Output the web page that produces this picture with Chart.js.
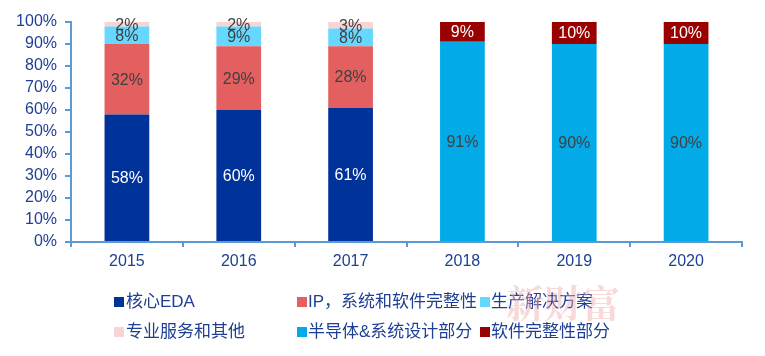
<!DOCTYPE html>
<html>
<head>
<meta charset="utf-8">
<script src="https://cdn.jsdelivr.net/npm/chart.js@4"></script>
<style>
  html, body { margin: 0; padding: 0; background: #fff; }
  #wrap { position: relative; width: 765px; height: 356px; overflow: hidden; }
  #c { position: absolute; left: 0; top: 0; }
  .lg { position: absolute; font-family: "Liberation Sans", "Noto Sans CJK SC", sans-serif; font-size: 17px; color: #1F3F94; white-space: nowrap; line-height: 20px; }
  .sq { position: absolute; width: 10px; height: 10px; }
  #wm { position: absolute; left: 506px; top: 281px; font-family: "Noto Serif CJK SC", "Noto Sans CJK SC", serif; font-size: 38px; font-weight: bold; color: rgba(240, 170, 170, 0.45); letter-spacing: 0px; line-height: 40px; }
</style>
</head>
<body>
<div id="wrap">
  <canvas id="c" width="765" height="356"></canvas>
  <div id="legend"></div>
  <div id="wm">新财富</div>
</div>
<script>
const categories = ['2015', '2016', '2017', '2018', '2019', '2020'];
const coreEDA      = [58, 60, 61, null, null, null];
const ipSystems    = [32, 29, 28, null, null, null];
const manufacturing= [8, 9, 8, null, null, null];
const services     = [2, 2, 3, null, null, null];
const semiSystem   = [null, null, null, 91, 90, 90];
const softwareInt  = [null, null, null, 9, 10, 10];
const seriesNames = ['核心EDA', 'IP，系统和软件完整性', '生产解决方案', '专业服务和其他', '半导体&系统设计部分', '软件完整性部分'];
const yTicks = [0, 10, 20, 30, 40, 50, 60, 70, 80, 90, 100];

const colors = ['#003399', '#E45F5F', '#66D8FF', '#F9D4D4', '#02AAE8', '#990000'];
const labelColors = ['#FFFFFF', '#404040', '#404040', '#404040', '#404040', '#FFFFFF'];
const seriesData = [coreEDA, ipSystems, manufacturing, services, semiSystem, softwareInt];

const axisColor = '#5B9BD5';
const tickColor = '#1F3F94';

const datasets = seriesData.map((d, i) => ({
  label: seriesNames[i],
  data: d,
  backgroundColor: colors[i],
  borderWidth: 0,
  barPercentage: 0.4,
  categoryPercentage: 1.0
}));

const valueLabels = {
  id: 'valueLabels',
  afterDatasetsDraw(chart) {
    const ctx = chart.ctx;
    ctx.save();
    ctx.font = '16px "Liberation Sans", Arial, sans-serif';
    ctx.textAlign = 'center';
    ctx.textBaseline = 'middle';
    chart.data.datasets.forEach((ds, di) => {
      const meta = chart.getDatasetMeta(di);
      meta.data.forEach((el, i) => {
        const v = ds.data[i];
        if (v === null || v === undefined) return;
        ctx.fillStyle = labelColors[di];
        ctx.fillText(v + '%', el.x, (el.y + el.base) / 2 + 1);
      });
    });
    ctx.restore();
  }
};

new Chart(document.getElementById('c'), {
  type: 'bar',
  data: { labels: categories, datasets },
  options: {
    responsive: false,
    animation: false,
    devicePixelRatio: 1,
    layout: { padding: { top: 22, right: 23, left: 0, bottom: 0 } },
    plugins: { legend: { display: false }, tooltip: { enabled: false } },
    scales: {
      x: {
        stacked: true,
        grid: { display: true, drawOnChartArea: false, drawTicks: true, tickLength: 5, color: axisColor, lineWidth: 2, offset: true },
        border: { display: true, color: axisColor, width: 2 },
        ticks: { color: tickColor, font: { family: '"Liberation Sans", Arial, sans-serif', size: 16 }, padding: 5 },
        afterFit(scale) { scale.height = 114; }
      },
      y: {
        stacked: true,
        min: 0, max: 100,
        afterBuildTicks(scale) { scale.ticks = yTicks.map(v => ({ value: v })); },
        grid: { display: true, drawOnChartArea: false, drawTicks: true, tickLength: 6, color: axisColor, lineWidth: 2 },
        border: { display: true, color: axisColor, width: 2 },
        ticks: { autoSkip: false, color: tickColor, font: { family: '"Liberation Sans", Arial, sans-serif', size: 16 }, padding: 8, callback: v => v + '%' },
        afterFit(scale) { scale.width = 71; }
      }
    }
  },
  plugins: [valueLabels]
});

// HTML legend
const legendPos = [
  { sx: 114, tx: 126, y: 302 },
  { sx: 297, tx: 308, y: 302 },
  { sx: 480, tx: 491, y: 302 },
  { sx: 114, tx: 126, y: 332 },
  { sx: 297, tx: 308, y: 332 },
  { sx: 480, tx: 491, y: 332 }
];
const legend = document.getElementById('legend');
seriesNames.forEach((name, i) => {
  const p = legendPos[i];
  const sq = document.createElement('div');
  sq.className = 'sq';
  sq.style.left = p.sx + 'px';
  sq.style.top = (p.y - 5) + 'px';
  sq.style.background = colors[i];
  legend.appendChild(sq);
  const t = document.createElement('div');
  t.className = 'lg';
  t.style.left = p.tx + 'px';
  t.style.top = (p.y - 10) + 'px';
  t.textContent = name;
  legend.appendChild(t);
});
</script>
</body>
</html>
